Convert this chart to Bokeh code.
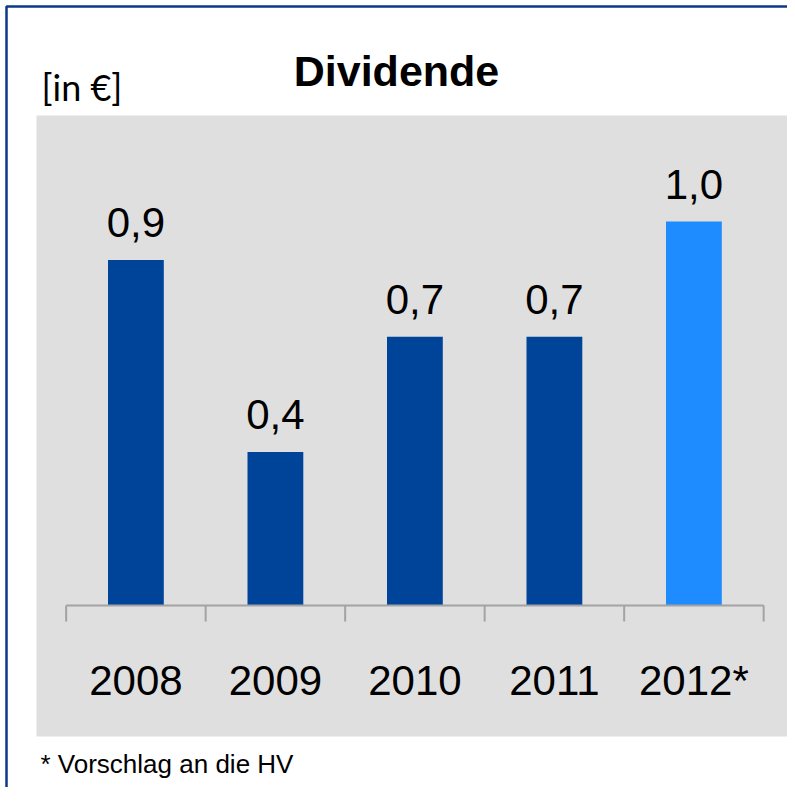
from bokeh.plotting import figure
from bokeh.models import ColumnDataSource, Range1d
from bokeh.core.properties import value
from bokeh.embed import file_html
from bokeh.resources import INLINE

# ---- data ----
years = ["2008", "2009", "2010", "2011", "2012*"]
dividend = [0.9, 0.4, 0.7, 0.7, 1.0]
proposed = [False, False, False, False, True]
title_text = "Dividende"
unit_text = "[in €]"
footnote_text = "* Vorschlag an die HV"

# ---- layout (pixels) ----
W, H = 787, 787
CX0, CSTEP = 135.4, 139.5      # px of first category centre, px per category
BASE, YSCALE = 605.0, 384.0    # px of value 0 from top, px per unit
BL = 0.37                      # empirical baseline correction (fraction of font size)

def xd(px):
    return (px - CX0) / CSTEP

def yd(px):
    return (BASE - px) / YSCALE

DARK, LIGHT = "#00449A", "#1E8BFF"
GRAY_BG = "#DFDFDF"
AXIS_C = "#A3A3A3"
BORDER_C = "#0B3A87"
SANS = "Liberation Sans"

p = figure(width=W, height=H, output_backend="svg", toolbar_location=None,
           x_range=Range1d(xd(0), xd(W)), y_range=Range1d(yd(H), yd(0)),
           min_border=0, tools="")
p.axis.visible = False
p.grid.visible = False
p.outline_line_color = None
p.background_fill_color = "white"
p.border_fill_color = "white"

# grey panel
p.quad(left=[xd(36)], right=[xd(793)], bottom=[yd(736)], top=[yd(115)],
       fill_color=GRAY_BG, line_color=None)

# frame border (left and top)
p.line(x=[xd(6), xd(6), xd(W + 5)], y=[yd(H + 5), yd(6), yd(6)],
       line_color=BORDER_C, line_width=2.5)

n = len(years)
xs = list(range(n))
colors = [LIGHT if f else DARK for f in proposed]
labels = [f"{v:.1f}".replace(".", ",") for v in dividend]
src = ColumnDataSource(dict(x=xs, top=dividend, color=colors, label=labels, cat=years))

p.vbar(x="x", top="top", bottom=0, width=0.4, fill_color="color", line_color=None, source=src)

# x axis line and ticks
tick_x = [i - 0.5 for i in range(n + 1)]
p.segment(x0=[-0.5], y0=[0], x1=[n - 0.5], y1=[0], line_color=AXIS_C, line_width=2)
tick_len = 16 / YSCALE
p.segment(x0=tick_x, y0=[0] * len(tick_x), x1=tick_x, y1=[-tick_len] * len(tick_x),
          line_color=AXIS_C, line_width=2)

VFS = 42
# value labels
p.text(x="x", y="top", text="label", source=src, text_align="center",
       text_baseline="alphabetic", y_offset=-21.5 - BL * VFS, text_font=value(SANS),
       text_font_size=f"{VFS}px", text_color="black")

# category labels
p.text(x="x", y=0, text="cat", source=src, text_align="center",
       text_baseline="alphabetic", y_offset=90.7 - BL * VFS, text_font=value(SANS),
       text_font_size=f"{VFS}px", text_color="black")

# title
TFS = 43
p.text(x=[xd(396)], y=[yd(86.7 - BL * TFS)], text=[title_text], text_align="center",
       text_baseline="alphabetic", text_font=value(SANS),
       text_font_style="bold", text_font_size=f"{TFS}px", text_color="black")

# unit
UFS = 36
p.text(x=[xd(41)], y=[yd(100 - BL * UFS)], text=[unit_text], text_align="left",
       text_baseline="alphabetic", text_font=value("Lato"),
       text_font_size=f"{UFS}px", text_color="black")

# footnote
FFS = 26
p.text(x=[xd(40)], y=[yd(773 - BL * FFS)], text=[footnote_text], text_align="left",
       text_baseline="alphabetic", text_font=value(SANS),
       text_font_size=f"{FFS}px", text_color="black")

open("out.html", "w").write(file_html(p, INLINE))
